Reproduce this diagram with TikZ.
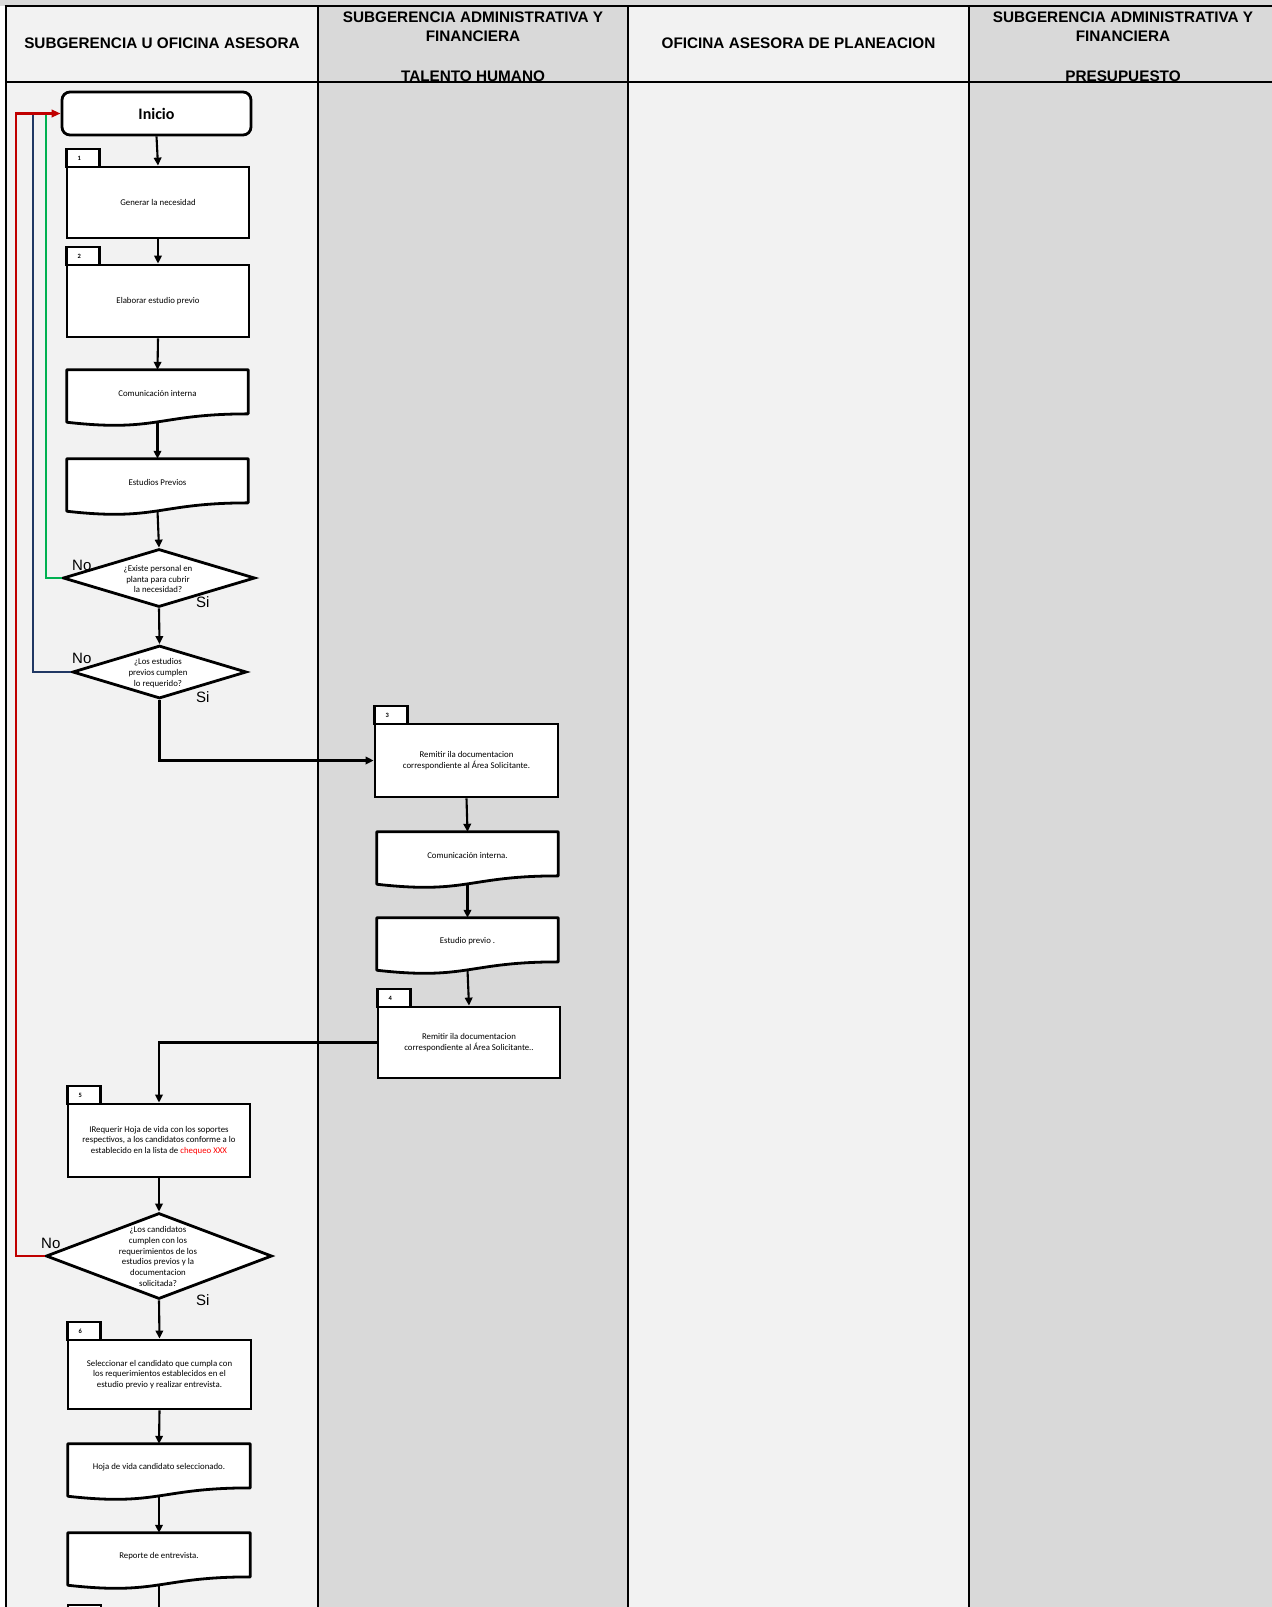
\documentclass[tikz,border=0pt]{standalone}
\usepackage{fontspec}
\setmainfont{Carlito}
\newfontfamily\hdrfont{Liberation Sans}
\usetikzlibrary{arrows.meta,shapes.geometric,calc}
\pgfdeclarelayer{lanes}
\pgfdeclarelayer{docfill}
\pgfsetlayers{lanes,docfill,main}

\definecolor{laneLight}{HTML}{F2F2F2}
\definecolor{laneDark}{HTML}{D9D9D9}
\definecolor{loopRed}{HTML}{C00000}
\definecolor{loopBlue}{HTML}{203864}
\definecolor{loopGreen}{HTML}{00B050}
\definecolor{noteRed}{HTML}{FF0000}

\tikzset{
  lanerule/.style={line width=2.9pt},
  hdr/.style={font=\hdrfont\bfseries\fontsize{15.3}{19.6}\selectfont, align=center, inner sep=0pt},
  task/.style={draw, line width=2.8pt, fill=white, minimum width=182pt, minimum height=72pt,
    inner sep=2pt, align=center, font=\fontsize{8.8}{10.8}\selectfont},
  tasktab/.style={draw, line width=2.6pt, fill=white, minimum width=33pt, minimum height=18pt,
    inner xsep=11pt, inner ysep=0pt, outer sep=0pt, text width=11pt, align=left,
    font=\bfseries\fontsize{6.5}{7.5}\selectfont, anchor=south west},
  docnode/.style={minimum width=181pt, minimum height=46pt, inner sep=0pt, align=center,
    font=\fontsize{8.8}{10.8}\selectfont},
  docline/.style={line width=2.8pt, fill=white, line join=round},
  decision/.style={diamond, draw, line width=2.8pt, fill=white, inner sep=0pt},
  dtext/.style={align=center, font=\fontsize{8.8}{10.8}\selectfont, inner sep=0pt},
  answer/.style={font=\hdrfont\fontsize{15}{18}\selectfont, inner sep=0pt, anchor=west},
  flowline/.style={line width=2.1pt, -{Triangle[length=8pt,width=7.5pt]}},
  plainline/.style={line width=2.1pt},
  backline/.style={line width=2.1pt},
}

% document symbol: straight top and sides, wavy bottom edge
\newcommand\docframe[1]{%
  \begin{pgfonlayer}{docfill}
    \draw[docline] (#1.north west) -- (#1.north east)
      -- ($(#1.north east)!0.95!(#1.south east)$)
      .. controls ($(#1.north)!0.95!(#1.south)$) and ($(#1.north)!1.35!(#1.south)$)
      .. ($(#1.north west)!1.13!(#1.south west)$) -- cycle;
  \end{pgfonlayer}
  \coordinate (#1-b) at ($(#1.north)!1.12!(#1.south)$);
}
% numbered tab sitting on the top edge of a task box
\newcommand\numtab[2]{%
  \node[tasktab] (#1tab) at ([xshift=1pt,yshift=-1.4pt]#1.north west) {#2};
}

\begin{document}
\begin{tikzpicture}[x=1pt,y=-1pt]
\useasboundingbox (0,0) rectangle (1272,1607);

% swimlanes
\begin{pgfonlayer}{lanes}
  \fill[white] (0,0) rectangle (1272,1607);
  \fill[laneDark] (0,0) rectangle (1272,6);
  \fill[laneLight] (6,6) rectangle (318,1607);
  \fill[laneDark] (318,6) rectangle (628,1607);
  \fill[laneLight] (628,6) rectangle (969,1607);
  \fill[laneDark] (969,6) rectangle (1272,1607);
  \draw[lanerule] (4.6,6) -- (1272,6);
  \draw[lanerule] (6,82) -- (1272,82);
  \foreach \lx in {6,318,628,969} \draw[lanerule] (\lx,6) -- (\lx,1607);
\end{pgfonlayer}

% lane headers
\node[hdr] (h1) at (162,43) {SUBGERENCIA U OFICINA ASESORA};
\node[hdr] (h2) at (473,46.5) {SUBGERENCIA ADMINISTRATIVA Y\\FINANCIERA\\[19.6pt]TALENTO HUMANO};
\node[hdr] (h3) at (798.5,43) {OFICINA ASESORA DE PLANEACION};
\node[hdr] (h4) at (1123,46.5) {SUBGERENCIA ADMINISTRATIVA Y\\FINANCIERA\\[19.6pt]PRESUPUESTO};

% start
\node[draw, line width=2.8pt, rounded corners=8pt, fill=white, minimum width=189pt,
  minimum height=43pt, font=\bfseries\fontsize{16}{19}\selectfont] (inicio) at (156.5,113.5) {Inicio};

% lane 1: need and previous study
\node[task, minimum height=71pt] (t1) at (158,202.5) {Generar la necesidad};
\numtab{t1}{1}
\node[task] (t2) at (158,301) {Elaborar estudio previo};
\numtab{t2}{2}

\node[docnode] (d1) at (157.5,393) {Comunicación interna};
\docframe{d1}
\node[docnode] (d2) at (157.5,482) {Estudios Previos};
\docframe{d2}

\node[decision, minimum width=192pt, minimum height=58pt] (q1) at (159,578) {};
\node[dtext] (q1txt) at (158,579) {¿Existe personal en\\planta para cubrir\\la necesidad?};
\node[decision, minimum width=174pt, minimum height=53pt] (q2) at (159.5,672) {};
\node[dtext] (q2txt) at (158,673) {¿Los estudios\\previos cumplen\\lo requerido?};

% lane 2: talento humano
\node[task, minimum width=183pt, minimum height=73pt] (t3) at (466.5,760.5)
  {Remitir ila documentacion\\correspondiente al Área Solicitante.};
\numtab{t3}{3}
\node[docnode] (d3) at (467.5,855) {Comunicación interna.};
\docframe{d3}
\node[docnode] (d4) at (467.5,941) {Estudio previo .};
\docframe{d4}
\node[task, minimum height=71pt] (t4) at (469,1042.5)
  {Remitir ila documentacion\\correspondiente al Área Solicitante..};
\numtab{t4}{4}

% lane 1: candidates
\node[task, minimum height=73pt] (t5) at (159,1140.5)
  {IRequerir Hoja de vida con los soportes\\respectivos, a los candidatos conforme a lo\\establecido en la lista de \textcolor{noteRed}{chequeo XXX}};
\numtab{t5}{5}
\node[decision, minimum width=226pt, minimum height=86pt] (q3) at (159,1256) {};
\node[dtext] (q3txt) at (158,1256.5) {¿Los candidatos\\cumplen con los\\requerimientos de los\\estudios previos y la\\documentacion\\solicitada?};
\node[task, minimum width=183pt, minimum height=69pt] (t6) at (159.5,1374.5)
  {Seleccionar el candidato que cumpla con\\los requerimientos establecidos en el\\estudio previo y realizar entrevista.};
\numtab{t6}{6}
\node[docnode, minimum width=182pt] (d5) at (159,1467) {Hoja de vida candidato seleccionado.};
\docframe{d5}
\node[docnode, minimum width=182pt] (d6) at (159,1556) {Reporte de entrevista.};
\docframe{d6}
\node[tasktab, anchor=north west] (t7tab) at (68,1605) {};
\coordinate (cont) at (159,1625);

% answers
\node[answer] (q1no) at (72,565) {No};
\node[answer] (q1si) at (196,602) {Si};
\node[answer] (q2no) at (72,658) {No};
\node[answer] (q2si) at (196,697) {Si};
\node[answer] (q3no) at (41,1243) {No};
\node[answer] (q3si) at (196,1300) {Si};

% main flow
\draw[flowline] (inicio.south) -- (t1.north);
\draw[flowline] (t1.south) -- (t2.north);
\draw[flowline] (t2.south) -- (d1.north);
\draw[flowline] (d1-b) -- (d2.north);
\draw[flowline] (d2-b) -- (q1.north);
\draw[flowline] (q1.south) -- (q2.north);
\draw[flowline] (q2.south) |- (t3.west);
\draw[flowline] (t3.south) -- (d3.north);
\draw[flowline] (d3-b) -- (d4.north);
\draw[flowline] (d4-b) -- (t4.north);
\draw[flowline] (t4.west) -| (t5.north);
\draw[flowline] (t5.south) -- (q3.north);
\draw[flowline] (q3.south) -- (t6.north);
\draw[flowline] (t6.south) -- (d5.north);
\draw[flowline] (d5-b) -- (d6.north);
\draw[plainline] (d6-b) -- (cont);

% "No" branches back to the start
\draw[backline, loopGreen] (q1.west) -| ([xshift=-15pt]inicio.west);
\draw[backline, loopBlue] (q2.west) -| ([xshift=-28pt]inicio.west);
\draw[backline, loopRed, -{Triangle[length=9pt,width=7.5pt]}] (q3.west) -| ([xshift=-45pt]inicio.west) -- (inicio.west);
\end{tikzpicture}
\end{document}
